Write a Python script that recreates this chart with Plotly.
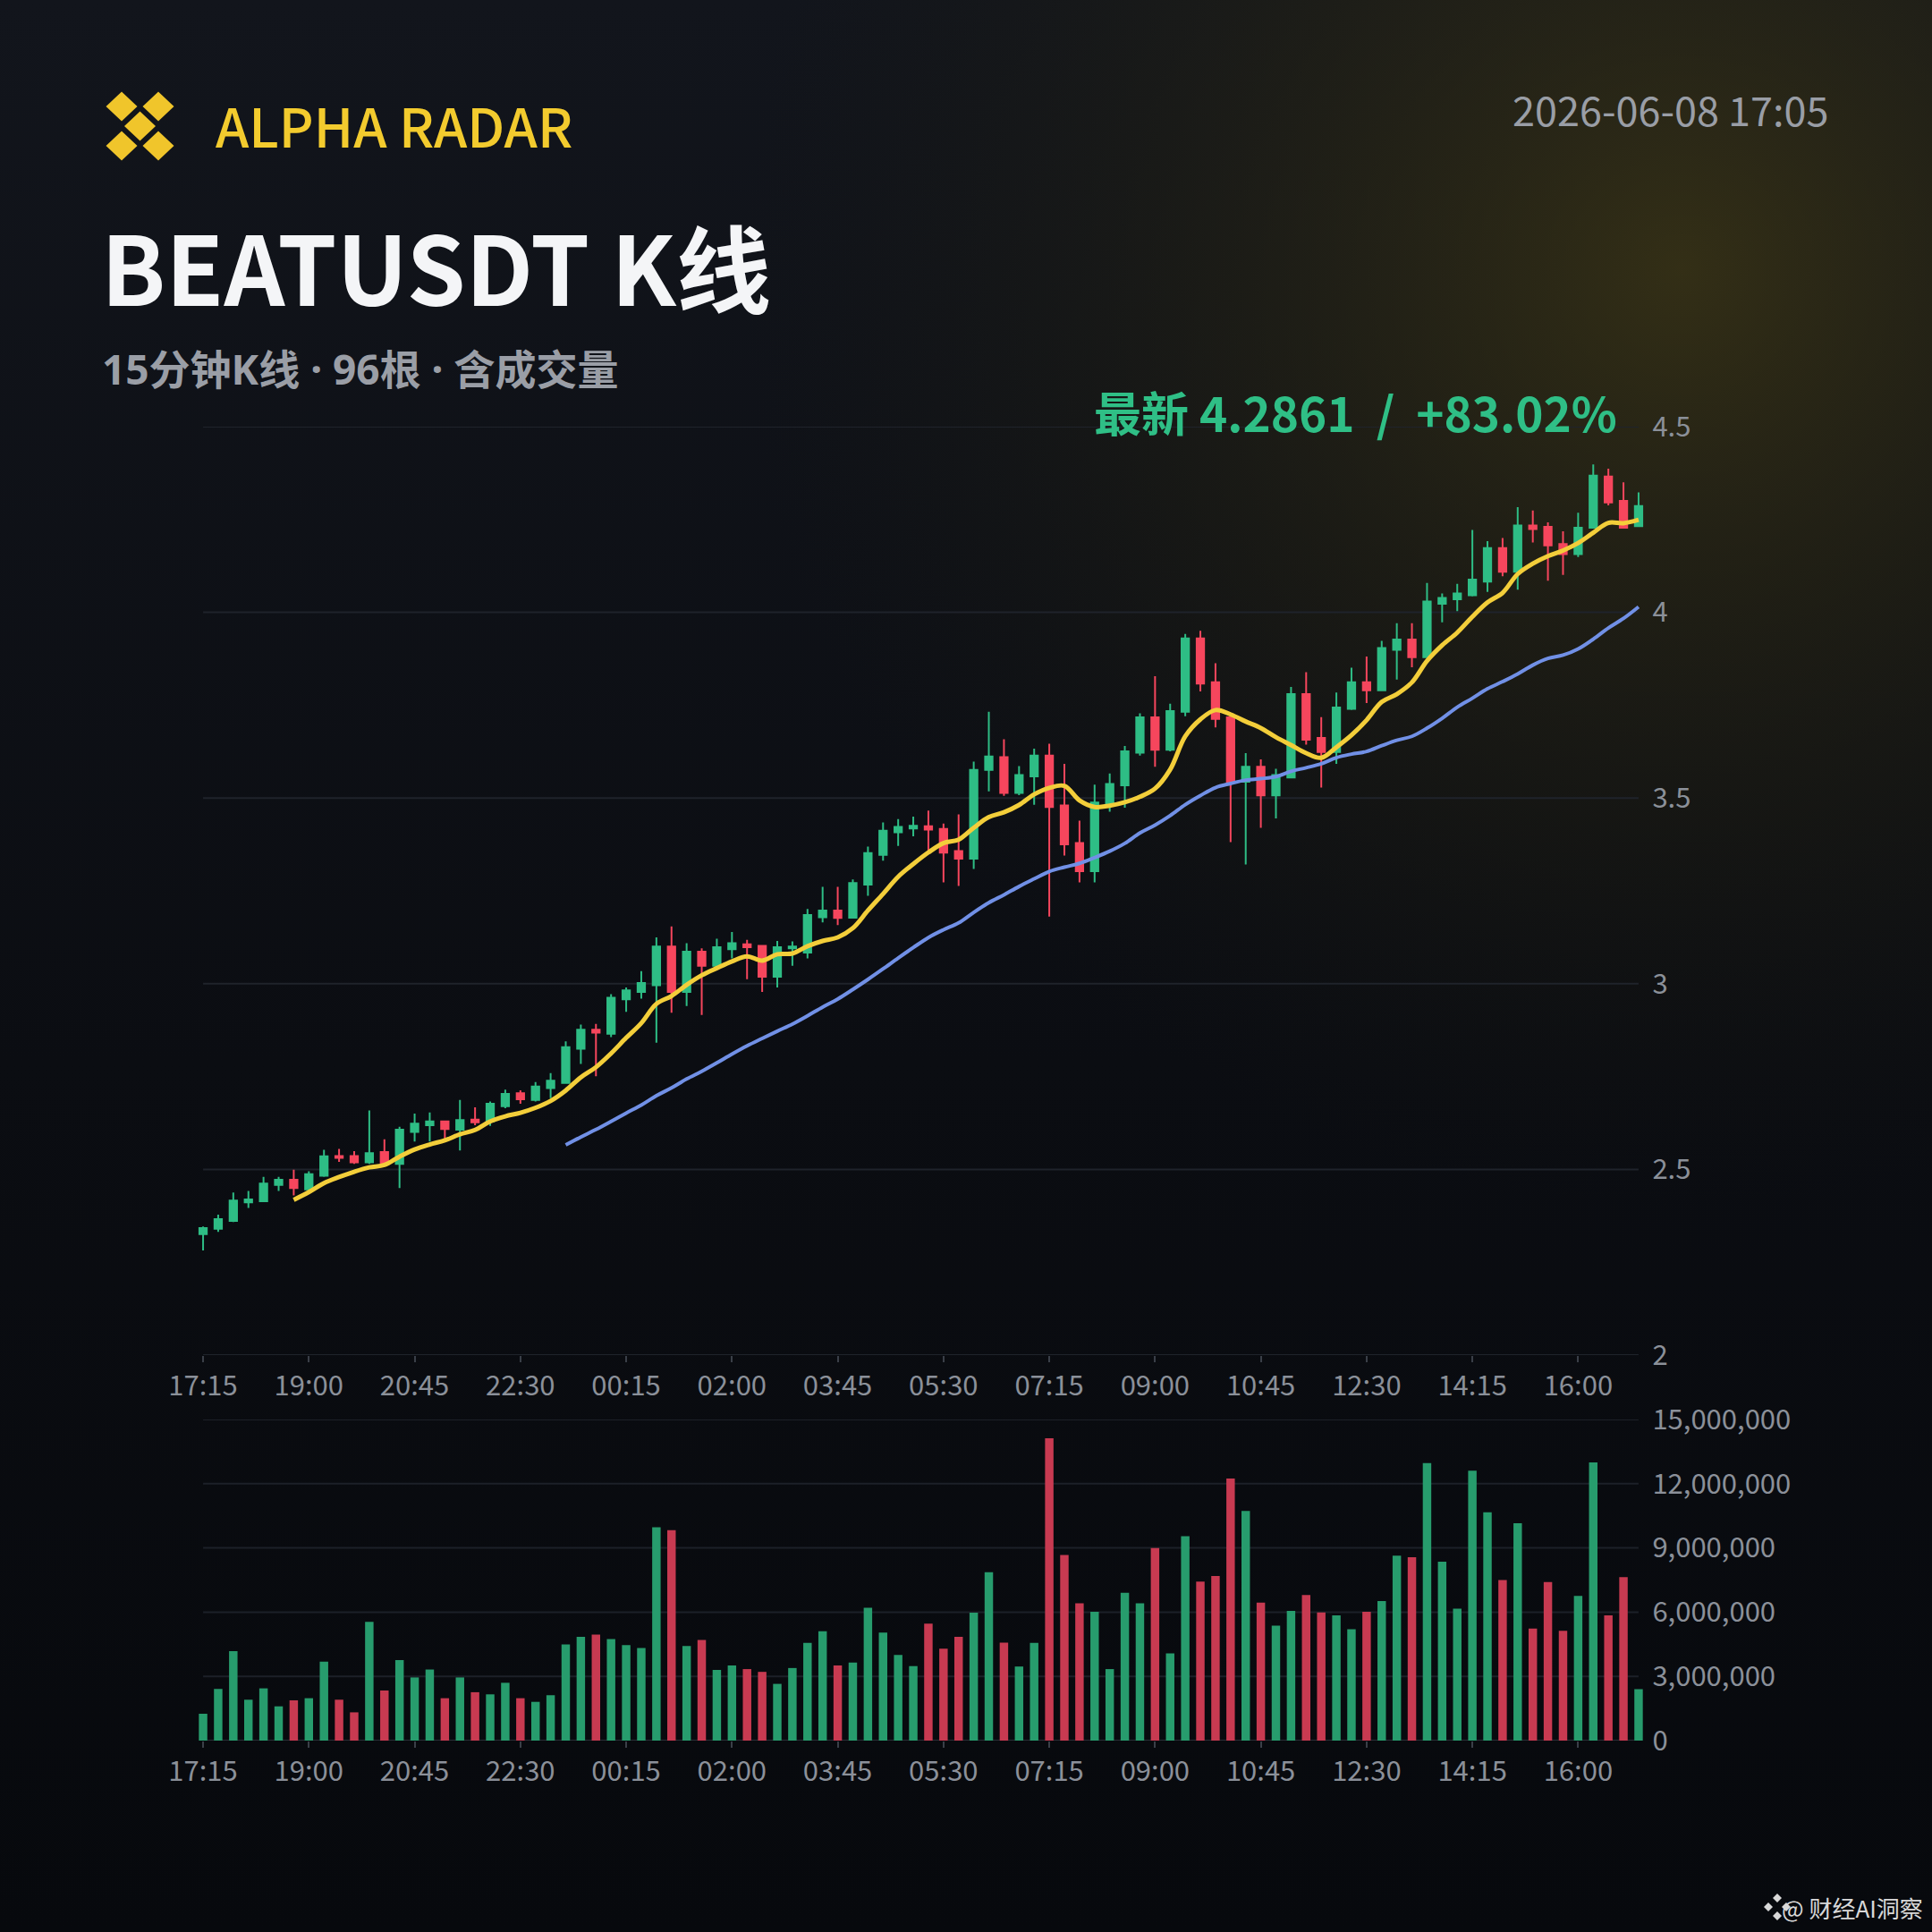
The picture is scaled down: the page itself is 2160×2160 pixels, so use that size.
import base64
import pandas as pd
import plotly.graph_objects as go

# ---------------- data ----------------
tick_labels = ["17:15", "19:00", "20:45", "22:30", "00:15", "02:00", "03:45",
               "05:30", "07:15", "09:00", "10:45", "12:30", "14:15", "16:00"]

opens = [2.326, 2.340, 2.361, 2.411, 2.414, 2.458, 2.472, 2.446, 2.483, 2.536, 2.536, 2.519,
         2.547, 2.515, 2.601, 2.619, 2.629, 2.607, 2.634, 2.629, 2.670, 2.705, 2.687, 2.719,
         2.733, 2.825, 2.876, 2.865, 2.958, 2.978, 2.996, 3.100, 2.978, 3.086, 3.048, 3.093,
         3.106, 3.102, 3.019, 3.095, 3.084, 3.179, 3.197, 3.178, 3.267, 3.347, 3.408, 3.418,
         3.424, 3.417, 3.357, 3.337, 3.576, 3.610, 3.514, 3.558, 3.614, 3.480, 3.379, 3.303,
         3.486, 3.534, 3.622, 3.717, 3.630, 3.732, 3.930, 3.812, 3.717, 3.544, 3.584, 3.507,
         3.555, 3.780, 3.662, 3.624, 3.740, 3.812, 3.790, 3.899, 3.927, 3.879, 4.023, 4.035,
         4.046, 4.083, 4.173, 4.109, 4.234, 4.230, 4.184, 4.157, 4.228, 4.366, 4.300, 4.232]

closes = [2.342, 2.366, 2.416, 2.419, 2.462, 2.472, 2.450, 2.487, 2.535, 2.531, 2.519, 2.544,
          2.517, 2.607, 2.623, 2.629, 2.609, 2.633, 2.627, 2.677, 2.703, 2.689, 2.723, 2.739,
          2.829, 2.876, 2.868, 2.962, 2.982, 3.002, 3.100, 2.978, 3.086, 3.048, 3.098, 3.109,
          3.098, 3.019, 3.098, 3.100, 3.185, 3.197, 3.177, 3.271, 3.352, 3.412, 3.422, 3.425,
          3.415, 3.353, 3.337, 3.576, 3.612, 3.514, 3.562, 3.614, 3.476, 3.375, 3.303, 3.488,
          3.538, 3.626, 3.717, 3.630, 3.734, 3.930, 3.808, 3.713, 3.544, 3.584, 3.507, 3.562,
          3.780, 3.657, 3.624, 3.744, 3.812, 3.790, 3.904, 3.927, 3.879, 4.029, 4.039, 4.051,
          4.088, 4.173, 4.109, 4.234, 4.224, 4.180, 4.157, 4.228, 4.368, 4.296, 4.228, 4.2861]

highs = [2.346, 2.378, 2.438, 2.442, 2.480, 2.480, 2.499, 2.495, 2.553, 2.555, 2.549, 2.659,
         2.581, 2.615, 2.650, 2.653, 2.631, 2.687, 2.667, 2.683, 2.715, 2.713, 2.735, 2.759,
         2.845, 2.890, 2.892, 2.972, 2.990, 3.034, 3.125, 3.154, 3.109, 3.095, 3.121, 3.139,
         3.118, 3.103, 3.115, 3.114, 3.201, 3.261, 3.261, 3.281, 3.369, 3.434, 3.443, 3.450,
         3.466, 3.431, 3.456, 3.598, 3.732, 3.658, 3.586, 3.633, 3.646, 3.592, 3.439, 3.536,
         3.566, 3.640, 3.728, 3.828, 3.754, 3.942, 3.950, 3.863, 3.719, 3.621, 3.604, 3.579,
         3.799, 3.839, 3.718, 3.784, 3.851, 3.881, 3.923, 3.971, 3.971, 4.079, 4.051, 4.077,
         4.222, 4.192, 4.200, 4.283, 4.274, 4.242, 4.218, 4.268, 4.398, 4.387, 4.350, 4.323]

lows = [2.282, 2.332, 2.358, 2.396, 2.413, 2.442, 2.430, 2.442, 2.480, 2.520, 2.515, 2.515,
        2.515, 2.450, 2.575, 2.575, 2.583, 2.551, 2.619, 2.617, 2.665, 2.677, 2.683, 2.692,
        2.731, 2.784, 2.751, 2.856, 2.924, 2.960, 2.841, 2.922, 2.940, 2.916, 3.044, 3.068,
        3.012, 2.978, 2.990, 3.048, 3.068, 3.165, 3.158, 3.177, 3.237, 3.331, 3.371, 3.397,
        3.357, 3.273, 3.263, 3.309, 3.518, 3.506, 3.508, 3.482, 3.181, 3.345, 3.273, 3.273,
        3.463, 3.474, 3.614, 3.584, 3.626, 3.720, 3.787, 3.690, 3.381, 3.321, 3.420, 3.445,
        3.554, 3.644, 3.528, 3.592, 3.737, 3.756, 3.788, 3.819, 3.852, 3.877, 3.973, 4.003,
        4.043, 4.055, 4.097, 4.061, 4.188, 4.085, 4.101, 4.149, 4.226, 4.288, 4.227, 4.230]

volumes_m = [1.25, 2.41, 4.18, 1.91, 2.44, 1.60, 1.88, 1.98, 3.69, 1.91, 1.32, 5.55,
             2.34, 3.76, 2.95, 3.32, 1.98, 2.95, 2.26, 2.16, 2.70, 1.98, 1.81, 2.12,
             4.49, 4.85, 4.95, 4.74, 4.46, 4.32, 9.97, 9.83, 4.42, 4.70, 3.30, 3.51,
             3.34, 3.21, 2.65, 3.39, 4.56, 5.11, 3.51, 3.65, 6.20, 5.05, 4.00, 3.48,
             5.46, 4.29, 4.85, 5.97, 7.87, 4.57, 3.46, 4.56, 14.12, 8.67, 6.41, 6.02,
             3.34, 6.90, 6.41, 8.99, 4.07, 9.55, 7.43, 7.69, 12.24, 10.73, 6.45, 5.37,
             6.06, 6.80, 5.99, 5.85, 5.20, 6.02, 6.52, 8.64, 8.57, 12.96, 8.36, 6.16,
             12.61, 10.66, 7.50, 10.15, 5.23, 7.41, 5.13, 6.76, 12.99, 5.85, 7.64, 2.40]

price_ticks = [2, 2.5, 3, 3.5, 4, 4.5]
price_tick_text = ["2", "2.5", "3", "3.5", "4", "4.5"]
vol_ticks = [0, 3_000_000, 6_000_000, 9_000_000, 12_000_000, 15_000_000]

# ---------------- derived ----------------
n = len(closes)
idx = list(range(n))
volumes = [v * 1e6 for v in volumes_m]
ma7 = pd.Series(closes).rolling(7).mean()
ma25 = pd.Series(closes).rolling(25).mean()

GREEN = "#2ebd85"
RED = "#f6465d"
VGREEN = "#279c6d"
VRED = "#c83a51"
vol_colors = [VGREEN if c >= o else VRED for o, c in zip(opens, closes)]

W = H = 2160
FONT = "Noto Sans CJK SC, Noto Sans, sans-serif"


def px(x):
    return x / W


def py(y):
    return 1 - y / H


# ---------------- background ----------------
svg = f"""<svg xmlns='http://www.w3.org/2000/svg' width='{W}' height='{H}'>
<defs>
<linearGradient id='g' x1='0' y1='0' x2='0' y2='1'>
<stop offset='0' stop-color='#12151c'/><stop offset='0.55' stop-color='#0b0d12'/><stop offset='1' stop-color='#07090d'/>
</linearGradient>
<radialGradient id='r' cx='1880' cy='300' r='1050' gradientUnits='userSpaceOnUse'>
<stop offset='0' stop-color='#3f3815' stop-opacity='0.75'/>
<stop offset='0.5' stop-color='#2c2812' stop-opacity='0.38'/>
<stop offset='1' stop-color='#1a1a10' stop-opacity='0'/>
</radialGradient>
</defs>
<rect width='{W}' height='{H}' fill='url(#g)'/>
<rect width='{W}' height='{H}' fill='url(#r)'/>
</svg>"""
bg_src = "data:image/svg+xml;base64," + base64.b64encode(svg.encode()).decode()

# ---------------- figure ----------------
fig = go.Figure()

fig.add_trace(go.Candlestick(
    x=idx, open=opens, high=highs, low=lows, close=closes,
    increasing=dict(line=dict(color=GREEN, width=2), fillcolor=GREEN),
    decreasing=dict(line=dict(color=RED, width=2), fillcolor=RED),
    whiskerwidth=0, xaxis="x", yaxis="y", showlegend=False,
))
fig.add_trace(go.Scatter(x=idx, y=ma7, mode="lines", line=dict(color="#f3ce3a", width=5, shape="spline"),
                         xaxis="x", yaxis="y", showlegend=False))
fig.add_trace(go.Scatter(x=idx, y=ma25, mode="lines", line=dict(color="#7190e6", width=4, shape="spline"),
                         xaxis="x", yaxis="y", showlegend=False))
fig.add_trace(go.Bar(x=idx, y=volumes, marker=dict(color=vol_colors, line=dict(width=0)),
                     xaxis="x2", yaxis="y2", showlegend=False))

XD = [px(218.6), px(1840.4)]
tick_font = dict(family=FONT, size=31, color="#8b9099")
tickvals_x = list(range(0, n, 7))

common_x = dict(domain=XD, range=[-0.5, n - 0.5], tickvals=tickvals_x, ticktext=tick_labels,
                showgrid=False, zeroline=False, showline=False, ticks="outside", ticklen=7,
                tickcolor="#3a3f48", tickwidth=2, tickfont=tick_font, fixedrange=True,
                automargin=False)

fig.update_layout(
    template="plotly_dark",
    width=W, height=H, autosize=False,
    margin=dict(l=0, r=0, t=0, b=0, pad=0, autoexpand=False),
    paper_bgcolor="#0b0d12",
    plot_bgcolor="rgba(0,0,0,0)",
    boxgap=0.3, bargap=0.44,
    font=dict(family=FONT),
    xaxis=dict(**common_x, anchor="y", rangeslider=dict(visible=False)),
    yaxis=dict(domain=[py(1515), py(477)], range=[2, 4.5], side="right", tickvals=price_ticks,
               ticktext=price_tick_text, showgrid=False, zeroline=False, showline=False,
               tickfont=tick_font, ticklabelstandoff=6, fixedrange=True, automargin=False),
    xaxis2=dict(**common_x, anchor="y2"),
    yaxis2=dict(domain=[py(1946), py(1587)], range=[0, 15_000_000], side="right", tickvals=vol_ticks,
                tickformat=",d", showgrid=False, zeroline=False, showline=False,
                tickfont=tick_font, ticklabelstandoff=6, fixedrange=True, automargin=False),
    images=[dict(source=bg_src, xref="paper", yref="paper", x=0, y=1, sizex=1, sizey=1,
                 sizing="stretch", layer="below", xanchor="left", yanchor="top")],
)

# grid lines spanning the bar range
shapes = []
for t in price_ticks:
    shapes.append(dict(type="line", xref="x", yref="y", x0=0, x1=n - 1, y0=t, y1=t,
                       line=dict(color="#1f232b", width=2), layer="below"))
for t in vol_ticks:
    shapes.append(dict(type="line", xref="x2", yref="y2", x0=0, x1=n - 1, y0=t, y1=t,
                       line=dict(color="#2a2e36" if t == 0 else "#1c2028", width=2), layer="below"))


def diamond(cx, cy, hw, hh, color):
    path = (f"M {px(cx - hw)},{py(cy)} L {px(cx)},{py(cy - hh)} L {px(cx + hw)},{py(cy)} "
            f"L {px(cx)},{py(cy + hh)} Z")
    return dict(type="path", xref="paper", yref="paper", path=path, fillcolor=color,
                line=dict(width=0), layer="above")


# logo
for cx, cy in [(136, 119), (177, 119), (156.5, 141), (136, 163), (177, 163)]:
    shapes.append(diamond(cx, cy, 17.5, 16.5, "#f0c52b"))

# watermark icon
for cx, cy in [(1987, 2122), (1997, 2132), (1987, 2142), (1977, 2132)]:
    shapes.append(diamond(cx, cy, 5, 5, "#d8d8d8"))
fig.update_layout(shapes=shapes)

ann = [
    dict(text="ALPHA RADAR", x=px(239), y=py(138), xanchor="left", yanchor="middle",
         font=dict(size=60, color="#f3cb2e", weight=500)),
    dict(text="<b>BEATUSDT K线</b>", x=px(111), y=py(296), xanchor="left", yanchor="middle",
         font=dict(size=106, color="#f4f5f7")),
    dict(text="<b>15分钟K线 · 96根 · 含成交量</b>", x=px(112), y=py(412), xanchor="left", yanchor="middle",
         font=dict(size=46, color="#9a9ea6", family="Noto Sans, Noto Sans CJK SC, sans-serif")),
    dict(text="2026-06-08 17:05", x=px(2047), y=py(122), xanchor="right", yanchor="middle",
         font=dict(size=45, color="#9a9ea6")),
    dict(text="<b>最新 4.2861  /  +83.02%</b>", x=px(1810), y=py(460), xanchor="right", yanchor="middle",
         font=dict(size=53, color="#2fbf86")),
    dict(text="@ 财经AI洞察", x=px(2152), y=py(2132), xanchor="right", yanchor="middle",
         font=dict(size=26, color="#d8d8d8")),
]
for a in ann:
    a.update(xref="paper", yref="paper", showarrow=False)
fig.update_layout(annotations=ann)

fig.write_html("out.html")
